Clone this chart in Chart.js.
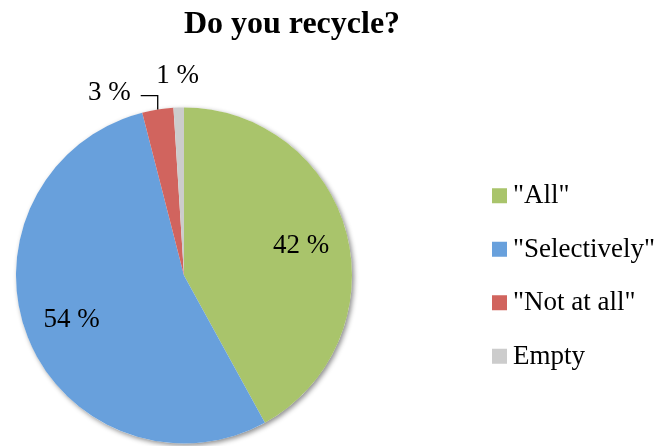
<!DOCTYPE html>
<html>
<head>
<meta charset="utf-8">
<script src="https://cdn.jsdelivr.net/npm/chart.js@4.4.1/dist/chart.umd.min.js"></script>
<style>
  html, body { margin: 0; padding: 0; background: #fff; }
  #wrap { width: 657px; height: 446px; position: relative; }
</style>
</head>
<body>
<div id="wrap"><canvas id="recycle"></canvas></div>
<script>
const chartTitle = 'Do you recycle?';
const categories = ['"All"', '"Selectively"', '"Not at all"', 'Empty'];
const shares = [42, 54, 3, 1];
const sliceColors = ['#a9c46b', '#68a0dc', '#d1645e', '#cccccc'];

const serif = "'Liberation Serif', 'Times New Roman', serif";

// soft shadow under the whole pie, drawn before the slices
const pieShadow = {
    id: 'pieShadow',
    beforeDatasetsDraw(chart) {
        const arc = chart.getDatasetMeta(0).data[0];
        if (!arc) return;
        const ctx = chart.ctx;
        ctx.save();
        ctx.shadowColor = 'rgba(0, 0, 0, 0.45)';
        ctx.shadowBlur = 5;
        ctx.shadowOffsetX = 2;
        ctx.shadowOffsetY = 2;
        ctx.fillStyle = '#fff';
        ctx.beginPath();
        ctx.arc(arc.x, arc.y, arc.outerRadius, 0, Math.PI * 2);
        ctx.fill();
        ctx.restore();
    }
};

// percentage labels: big slices inside, small ones outside (with a leader if they collide)
const sliceLabels = {
    id: 'sliceLabels',
    afterDatasetsDraw(chart) {
        const ctx = chart.ctx;
        const arcs = chart.getDatasetMeta(0).data;
        ctx.save();
        ctx.font = '27px ' + serif;
        ctx.fillStyle = '#000';
        ctx.textAlign = 'center';
        ctx.textBaseline = 'middle';
        const placed = [];
        for (let i = arcs.length - 1; i >= 0; i--) {
            const a = arcs[i];
            const text = shares[i] + ' %';
            const mid = (a.startAngle + a.endAngle) / 2;
            const cos = Math.cos(mid);
            const sin = Math.sin(mid);
            if (shares[i] >= 10) {
                const d = a.outerRadius * 0.72;
                ctx.fillText(text, a.x + cos * d, a.y + sin * d);
                continue;
            }
            const w = ctx.measureText(text).width;
            const d = a.outerRadius * 1.19;
            let x = a.x + cos * d;
            let y = a.y + sin * d;
            const hit = placed.some(p => Math.abs(p.x - x) < (p.w + w) / 2 && Math.abs(p.y - y) < 24);
            if (hit) {
                const ax = a.x + cos * a.outerRadius;
                const ay = a.y + sin * a.outerRadius;
                const ey = ay - 14;
                ctx.beginPath();
                ctx.moveTo(ax, ay);
                ctx.lineTo(ax, ey);
                ctx.lineTo(ax - 17, ey);
                ctx.strokeStyle = '#000';
                ctx.lineWidth = 1.3;
                ctx.stroke();
                x = ax - 27 - w / 2;
                y = ey - 3;
            }
            ctx.fillText(text, x, y);
            placed.push({ x, y, w });
        }
        ctx.restore();
    }
};

// title on top and the legend column on the right
const frame = {
    id: 'frame',
    afterDraw(chart) {
        const ctx = chart.ctx;
        const center = chart.getDatasetMeta(0).data[0];
        ctx.save();
        ctx.fillStyle = '#000';
        ctx.font = 'bold 32px ' + serif;
        ctx.textAlign = 'center';
        ctx.textBaseline = 'alphabetic';
        ctx.fillText(chartTitle, 292, 33);

        const rowGap = 53.5;
        const top = center.y - rowGap * (categories.length - 1) / 2;
        ctx.font = '27px ' + serif;
        ctx.textAlign = 'left';
        ctx.textBaseline = 'middle';
        categories.forEach((name, i) => {
            const y = top + i * rowGap;
            ctx.fillStyle = sliceColors[i];
            ctx.fillRect(492, y - 7, 15, 15);
            ctx.fillStyle = '#000';
            ctx.fillText(name, 513, y + 1);
        });
        ctx.restore();
    }
};

new Chart(document.getElementById('recycle'), {
    type: 'pie',
    data: {
        labels: categories,
        datasets: [{
            data: shares,
            backgroundColor: sliceColors,
            borderWidth: 0
        }]
    },
    options: {
        responsive: true,
        maintainAspectRatio: false,
        animation: false,
        layout: { padding: { left: 16, right: 305, top: 107, bottom: 2 } },
        plugins: {
            legend: { display: false },
            title: { display: false },
            tooltip: { enabled: false }
        }
    },
    plugins: [pieShadow, sliceLabels, frame]
});
</script>
</body>
</html>
